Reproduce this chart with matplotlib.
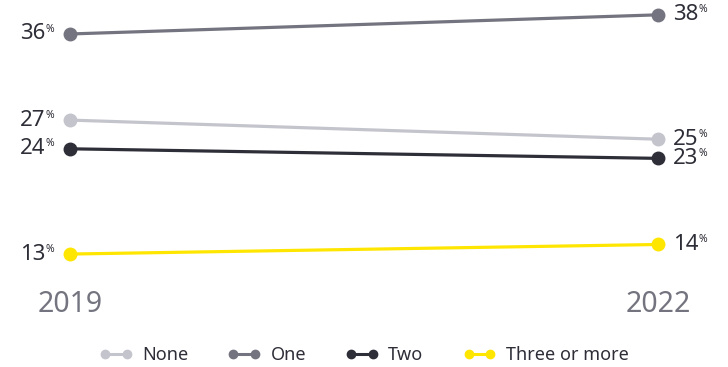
import matplotlib.pyplot as plt
from matplotlib.lines import Line2D

years = ["2019", "2022"]
series = ["None", "One", "Two", "Three or more"]
none_vals = [27, 25]
one_vals = [36, 38]
two_vals = [24, 23]
three_vals = [13, 14]
colors = ["#c4c4cd", "#747480", "#2e2e38", "#ffe600"]

plt.rcParams["font.family"] = ["Noto Sans", "DejaVu Sans"]

fig = plt.figure(figsize=(7.28, 3.67), dpi=100)
ax = fig.add_axes([0, 0.1826, 1, 0.8174])
ax.set_xlim(-0.119, 1.119)
ax.set_ylim(8.2, 39.55)
ax.axis("off")

x = [0, 1]
handles = []
txt = "#2e2e38"
for name, vals, c in zip(series, [none_vals, one_vals, two_vals, three_vals], colors):
    ax.plot(x, vals, color=c, lw=2.3, marker="o", ms=9, solid_capstyle="round", zorder=3)
    handles.append(Line2D([0], [0], color=c, lw=2.2, marker="o", ms=6))
    # left labels
    ax.annotate(f"{vals[0]}", (0, vals[0]), xytext=(-18, 0), textcoords="offset points",
                ha="right", va="center", fontsize=16, color=txt)
    ax.annotate("%", (0, vals[0]), xytext=(-17.5, 3.5), textcoords="offset points",
                ha="left", va="center", fontsize=7.5, color=txt)
    # right labels
    ax.annotate(f"{vals[1]}", (1, vals[1]), xytext=(11, 0), textcoords="offset points",
                ha="left", va="center", fontsize=16, color=txt)
    ax.annotate("%", (1, vals[1]), xytext=(29, 3.5), textcoords="offset points",
                ha="left", va="center", fontsize=7.5, color=txt)

for xi, yr in zip(x, years):
    fig.text(ax.transData.transform((xi, 0))[0] / fig.bbox.width, 1 - 305 / 367, yr,
             ha="center", va="center", fontsize=20.5, color="#747480")

fig.legend(handles, series, loc="center", bbox_to_anchor=(0.5, 1 - 355 / 367), ncol=4,
           frameon=False, fontsize=13, handlelength=1.8, columnspacing=2.2,
           handletextpad=0.55, numpoints=2, labelcolor=txt)

fig.savefig("out.png", dpi=100)
